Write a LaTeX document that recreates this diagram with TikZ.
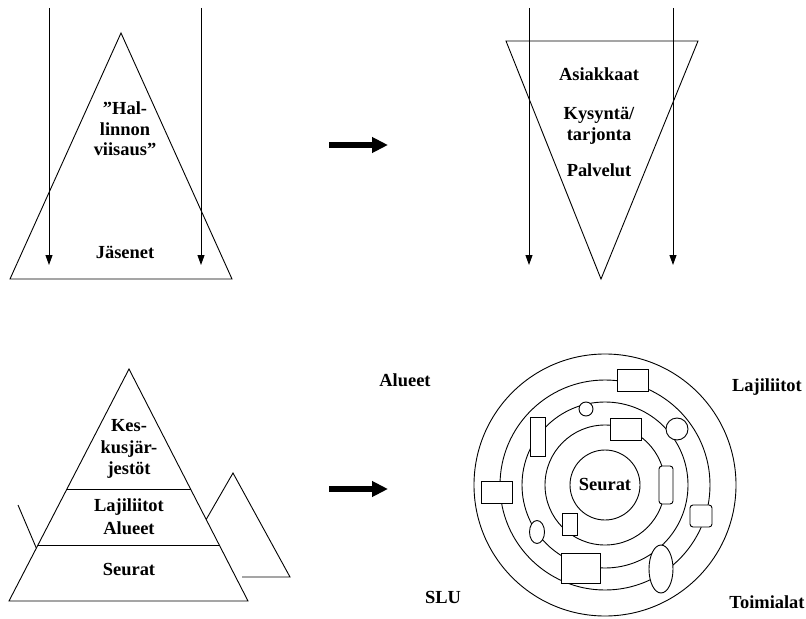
\documentclass[tikz,border=0pt]{standalone}
\usepackage{fontspec}
\setmainfont{Liberation Serif}
\usetikzlibrary{arrows.meta,calc,shapes.geometric}
\begin{document}
\begin{tikzpicture}[x=1bp,y=-1bp,
  ln/.style={line width=0.9bp,black},
  shp/.style={ln,fill=white},
  lbl/.style={font=\bfseries\fontsize{18.5}{20.5}\selectfont,align=center,inner sep=0pt},
  downarrow/.style={ln,-{Triangle[width=7bp,length=10bp]}},
  bigarrow/.style={line width=5.5bp,-{Triangle[width=15bp,length=16bp]}},
  boxr/.style={shp,draw,rectangle,inner sep=0pt},
  boxround/.style={shp,draw,rectangle,rounded corners=3bp,inner sep=0pt},
  oval/.style={shp,draw,ellipse,inner sep=0pt}]
\useasboundingbox (0,0) rectangle (806,619);

% ---------- top left: triangle ----------
\coordinate (tlA) at (121,33);
\coordinate (tlL) at (10,279);
\coordinate (tlR) at (232,279);
\draw[ln] (tlA) -- (tlL) -- (tlR) -- cycle;
\coordinate (tla1s) at (49,8);  \coordinate (tla1e) at (49,265);
\coordinate (tla2s) at (201,8); \coordinate (tla2e) at (201,265);
\draw[downarrow] (tla1s) -- (tla1e);
\draw[downarrow] (tla2s) -- (tla2e);
\node[lbl] (hal) at (125,129) {”Hal-\\linnon\\viisaus”};
\node[lbl] (jas) at (125,252) {Jäsenet};

% ---------- top right: inverted triangle ----------
\coordinate (trL) at (506,41);
\coordinate (trR) at (698,41);
\coordinate (trA) at (601,279);
\draw[ln] (trL) -- (trR) -- (trA) -- cycle;
\coordinate (tra1s) at (529,8);  \coordinate (tra1e) at (529,265);
\coordinate (tra2s) at (673,8);  \coordinate (tra2e) at (673,265);
\draw[downarrow] (tra1s) -- (tra1e);
\draw[downarrow] (tra2s) -- (tra2e);
\node[lbl] (asi) at (599,74) {Asiakkaat};
\node[lbl] (kys) at (599,126) {Kysyntä/\\tarjonta};
\node[lbl] (pal) at (599,170) {Palvelut};

% ---------- big arrows ----------
\coordinate (ba1s) at (329,145); \coordinate (ba1e) at (388,145);
\draw[bigarrow] (ba1s) -- (ba1e);
\coordinate (ba2s) at (329,489); \coordinate (ba2e) at (388,489);
\draw[bigarrow] (ba2s) -- (ba2e);

% ---------- bottom left: pyramids ----------
\draw[ln] (18,505) -- (38,552);
\draw[ln] (203,525) -- (233,473) -- (290,577) -- (242,577);
\coordinate (pA) at (129,369);
\coordinate (pL) at (9,601);
\coordinate (pR) at (248,601);
\draw[shp] (pA) -- (pL) -- (pR) -- cycle;
\draw[ln] ($(pA)!0.5172!(pL)$) -- ($(pA)!0.5172!(pR)$);
\draw[ln] ($(pA)!0.7586!(pL)$) -- ($(pA)!0.7586!(pR)$);
\node[lbl,font=\bfseries\fontsize{18.5}{22}\selectfont] (kes) at (129,449) {Kes-\\kusjär-\\jestöt};
\node[lbl,font=\bfseries\fontsize{18.5}{23}\selectfont] (laj) at (129,517) {Lajiliitot\\Alueet};
\node[lbl] (seu) at (129,570) {Seurat};

% ---------- bottom right: rings ----------
\coordinate (c) at (605,485);
\draw[ln] (c) circle[radius=131];
\draw[ln] (c) circle[radius=105];
\draw[ln] (c) circle[radius=83];
\draw[ln] (c) circle[radius=60];
\node[lbl,ln,draw,circle,minimum size=70bp,inner sep=0pt] (seur) at (c) {Seurat};

\node[boxr,minimum width=31bp,minimum height=22bp] (b1) at (633,380) {};
\node[oval,minimum width=14bp,minimum height=14bp] (o1) at (586,409) {};
\node[boxr,minimum width=15bp,minimum height=39bp] (b2) at (537.5,436.5) {};
\node[boxr,minimum width=31bp,minimum height=22bp] (b3) at (626,429) {};
\node[oval,minimum width=22bp,minimum height=22bp] (o2) at (677,429) {};
\node[boxround,minimum width=14bp,minimum height=38bp] (b4) at (666,485) {};
\node[boxr,minimum width=31bp,minimum height=22bp] (b5) at (497,492) {};
\node[boxround,minimum width=22bp,minimum height=22bp] (b6) at (701,516) {};
\node[boxr,minimum width=15bp,minimum height=22bp] (b7) at (569.5,524) {};
\node[oval,minimum width=15bp,minimum height=23bp] (o3) at (537,532) {};
\node[boxr,minimum width=39bp,minimum height=30bp] (b8) at (581,568) {};
\node[oval,minimum width=24bp,minimum height=48bp] (o4) at (661,569) {};

\node[lbl] (alu) at (405,380) {Alueet};
\node[lbl] (lajl) at (767,387) {Lajiliitot};
\node[lbl] (slu) at (443,597) {SLU};
\node[lbl] (toi) at (767,602) {Toimialat};
\end{tikzpicture}
\end{document}
